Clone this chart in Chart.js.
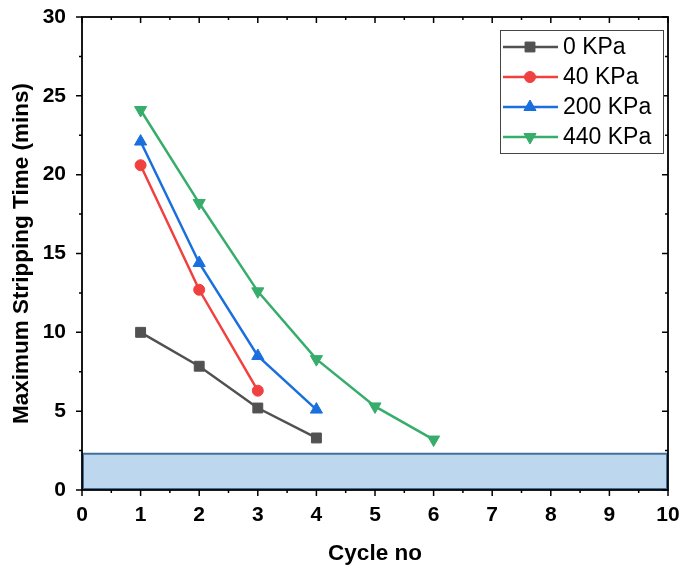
<!DOCTYPE html>
<html>
<head>
<meta charset="utf-8">
<script src="https://cdn.jsdelivr.net/npm/chart.js@4.4.2/dist/chart.umd.min.js"></script>
<style>
  html, body { margin: 0; padding: 0; background: #fff; }
  #wrap { width: 682px; height: 571px; }
</style>
</head>
<body>
<div id="wrap"><canvas id="stripChart"></canvas></div>
<script>
// values
const cycles = [1, 2, 3, 4, 5, 6];
const kpa0 = [10.0, 7.85, 5.2, 3.3];
const kpa40 = [20.6, 12.7, 6.3];
const kpa200 = [22.1, 14.4, 8.5, 5.1];
const kpa440 = [24.1, 18.2, 12.6, 8.3, 5.3, 3.2];
const seriesLabels = ['0 KPa', '40 KPa', '200 KPa', '440 KPa'];
const bandX = [0, 10];
const bandY = [0, 2.3];
const xTicks = [0, 1, 2, 3, 4, 5, 6, 7, 8, 9, 10];
const yTicks = [0, 5, 10, 15, 20, 25, 30];

const colors = ['#515151', '#F14040', '#1A6FDF', '#37AD6B'];
const styles = [
  { pointStyle: 'rect', radius: 7, rotation: 0 },
  { pointStyle: 'circle', radius: 5.5, rotation: 0 },
  { pointStyle: 'triangle', radius: 7, rotation: 0 },
  { pointStyle: 'triangle', radius: 7, rotation: 180 }
];

const toPoints = values => values.map((v, i) => ({ x: cycles[i], y: v }));

const series = [kpa0, kpa40, kpa200, kpa440].map((values, i) => ({
  label: seriesLabels[i],
  data: toPoints(values),
  showLine: true,
  borderColor: colors[i],
  backgroundColor: colors[i],
  borderWidth: 2.5,
  pointStyle: styles[i].pointStyle,
  pointRadius: styles[i].radius,
  pointRotation: styles[i].rotation,
  pointBorderWidth: 1,
  pointHoverRadius: styles[i].radius
}));

// shaded band behind the data, placed through the scales
const bandPlugin = {
  id: 'bandPlugin',
  beforeDatasetsDraw(chart) {
    const { ctx, scales: { x, y } } = chart;
    const x0 = x.getPixelForValue(bandX[0]), x1 = x.getPixelForValue(bandX[1]);
    const y0 = y.getPixelForValue(bandY[0]), y1 = y.getPixelForValue(bandY[1]);
    ctx.save();
    ctx.fillStyle = '#BDD7EE';
    ctx.fillRect(x0, y1, x1 - x0, y0 - y1);
    ctx.strokeStyle = '#41719C';
    ctx.lineWidth = 2;
    ctx.strokeRect(x0 + 1, y1, x1 - x0 - 2, y0 - y1 - 1);
    ctx.restore();
  }
};

// box frame with Origin-style major/minor ticks on all four sides
const frameTicks = {
  id: 'frameTicks',
  afterDraw(chart) {
    const { ctx, chartArea: a, scales: { x, y } } = chart;
    ctx.save();
    ctx.strokeStyle = '#000';
    ctx.lineWidth = 1.8;
    ctx.strokeRect(a.left, a.top, a.right - a.left, a.bottom - a.top);
    ctx.lineWidth = 1.5;
    ctx.beginPath();
    for (let v = x.min; v <= x.max + 1e-9; v += 0.5) {
      const px = x.getPixelForValue(v);
      const len = Number.isInteger(v) ? 6 : 3;
      ctx.moveTo(px, a.bottom); ctx.lineTo(px, a.bottom + len);
      ctx.moveTo(px, a.top); ctx.lineTo(px, a.top + len);
    }
    for (let v = y.min; v <= y.max + 1e-9; v += 2.5) {
      const py = y.getPixelForValue(v);
      const len = v % 5 === 0 ? 6 : 3;
      ctx.moveTo(a.left, py); ctx.lineTo(a.left - len, py);
      ctx.moveTo(a.right, py); ctx.lineTo(a.right - len, py);
    }
    ctx.stroke();
    ctx.restore();
  }
};

// legend inside the plot, line + marker samples in a framed box
const boxLegend = {
  id: 'boxLegend',
  afterDraw(chart) {
    const { ctx, chartArea: a } = chart;
    const left = a.right - 168, top = a.top + 13, width = 163, rowH = 30;
    ctx.save();
    ctx.fillStyle = '#fff';
    ctx.fillRect(left, top, width, rowH * seriesLabels.length + 3);
    ctx.strokeStyle = '#444';
    ctx.lineWidth = 1;
    ctx.strokeRect(left + 0.5, top + 0.5, width, rowH * seriesLabels.length + 3);
    ctx.font = '23px "Liberation Sans", Arial, sans-serif';
    ctx.textBaseline = 'middle';
    seriesLabels.forEach((label, i) => {
      const cy = top + 17 + i * rowH;
      ctx.strokeStyle = colors[i];
      ctx.fillStyle = colors[i];
      ctx.lineWidth = 2.5;
      ctx.beginPath();
      ctx.moveTo(left + 3, cy);
      ctx.lineTo(left + 58, cy);
      ctx.stroke();
      ctx.lineWidth = 1;
      Chart.helpers.drawPoint(ctx, {
        pointStyle: styles[i].pointStyle,
        rotation: styles[i].rotation,
        radius: styles[i].radius,
        borderWidth: 1
      }, left + 30, cy);
      ctx.fillStyle = '#000';
      ctx.fillText(label, left + 63, cy + 1);
    });
    ctx.restore();
  }
};

const tickFont = { family: '"Liberation Sans", Arial, sans-serif', size: 21, weight: 'bold' };
const titleFont = { family: '"Liberation Sans", Arial, sans-serif', size: 22.5, weight: 'bold' };

new Chart(document.getElementById('stripChart'), {
  type: 'scatter',
  data: { datasets: series },
  options: {
    responsive: true,
    maintainAspectRatio: false,
    animation: false,
    layout: { padding: { top: 17, right: 14, left: 0, bottom: 0 } },
    plugins: {
      legend: { display: false },
      tooltip: { enabled: false }
    },
    scales: {
      x: {
        type: 'linear',
        min: xTicks[0],
        max: xTicks[xTicks.length - 1],
        afterBuildTicks: scale => { scale.ticks = xTicks.map(v => ({ value: v })); },
        afterFit: scale => {
          scale.height = 81;
          scale.paddingLeft = 0;
          scale.paddingRight = 0;
        },
        grid: { display: false, drawTicks: false },
        border: { display: false },
        ticks: { color: '#000', font: tickFont, padding: 13, maxRotation: 0 },
        title: {
          display: true,
          text: 'Cycle no',
          color: '#000',
          font: titleFont,
          padding: { top: 0, bottom: 4 }
        }
      },
      y: {
        type: 'linear',
        min: yTicks[0],
        max: yTicks[yTicks.length - 1],
        afterBuildTicks: scale => { scale.ticks = yTicks.map(v => ({ value: v })); },
        afterFit: scale => {
          scale.width = 82;
          scale.paddingTop = 0;
          scale.paddingBottom = 0;
        },
        grid: { display: false, drawTicks: false },
        border: { display: false },
        ticks: { color: '#000', font: tickFont, padding: 16 },
        title: {
          display: true,
          text: 'Maximum Stripping Time (mins)',
          color: '#000',
          font: titleFont,
          padding: { top: 8, bottom: 0 }
        }
      }
    }
  },
  plugins: [bandPlugin, frameTicks, boxLegend]
});
</script>
</body>
</html>
